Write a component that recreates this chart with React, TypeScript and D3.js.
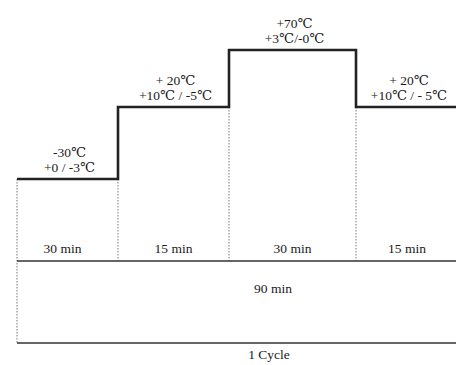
import React from "react";
import * as d3 from "d3";

const stages = ["Low", "Mid1", "High", "Mid2"];
const temps = [-30, 20, 70, 20];
const durations = [30, 15, 30, 15];
const tempLabels = ["-30℃", "+ 20℃", "+70℃", "+ 20℃"];
const tolLabels = ["+0 / -3℃", "+10℃ / -5℃", "+3℃/-0℃", "+10℃ / - 5℃"];
const totalLabel = "90 min";
const cycleLabel = "1 Cycle";

const W = 456;
const H = 365;

export default function App() {
  const x = d3.scaleLinear().domain([0, 1, 2, 3, 4]).range([17, 118, 229, 356, 458]);
  const y = d3.scaleLinear().domain([-30, 20, 70]).range([179, 107, 50]);
  const rowY = 261;
  const bottomY = 343;

  const pts: [number, number][] = [];
  temps.forEach((t, i) => {
    pts.push([x(i), y(t)]);
    pts.push([x(i + 1), y(t)]);
  });
  const line = d3.line();

  const font = "'Liberation Serif', 'DejaVu Serif', serif";
  const fs = 13.5;

  return (
    <svg width={W} height={H} style={{ position: "absolute", left: 0, top: 0, background: "#fff" }}>
      {stages.map((s, i) => (
        <line
          key={"v" + i}
          x1={x(i)}
          x2={x(i)}
          y1={i === 0 ? y(temps[0]) : Math.min(y(temps[i - 1]), y(temps[i]))}
          y2={i === 0 ? bottomY : rowY}
          stroke="#777"
          strokeWidth={1}
          strokeDasharray="1.5,1.5"
        />
      ))}
      <line x1={x(0)} x2={W} y1={rowY} y2={rowY} stroke="#333" strokeWidth={1.5} />
      <line x1={x(0)} x2={W} y1={bottomY} y2={bottomY} stroke="#333" strokeWidth={1.5} />
      <path d={line(pts) || ""} fill="none" stroke="#222" strokeWidth={2.6} />
      {stages.map((s, i) => {
        const cx = (x(i) + x(i + 1)) / 2;
        const ty = y(temps[i]);
        return (
          <g key={"l" + i} fontFamily={font} fontSize={fs} fill="#1a1a1a" textAnchor="middle">
            <text x={cx + 2} y={ty - 22}>{tempLabels[i]}</text>
            <text x={cx + 2} y={ty - 7}>{tolLabels[i]}</text>
            <text x={cx - (i === 0 ? 5 : 0)} y={rowY - 8}>{durations[i] + " min"}</text>
          </g>
        );
      })}
      <text x={273} y={293} fontFamily={font} fontSize={fs} fill="#1a1a1a" textAnchor="middle">{totalLabel}</text>
      <text x={269} y={359} fontFamily={font} fontSize={fs} fill="#1a1a1a" textAnchor="middle">{cycleLabel}</text>
    </svg>
  );
}
